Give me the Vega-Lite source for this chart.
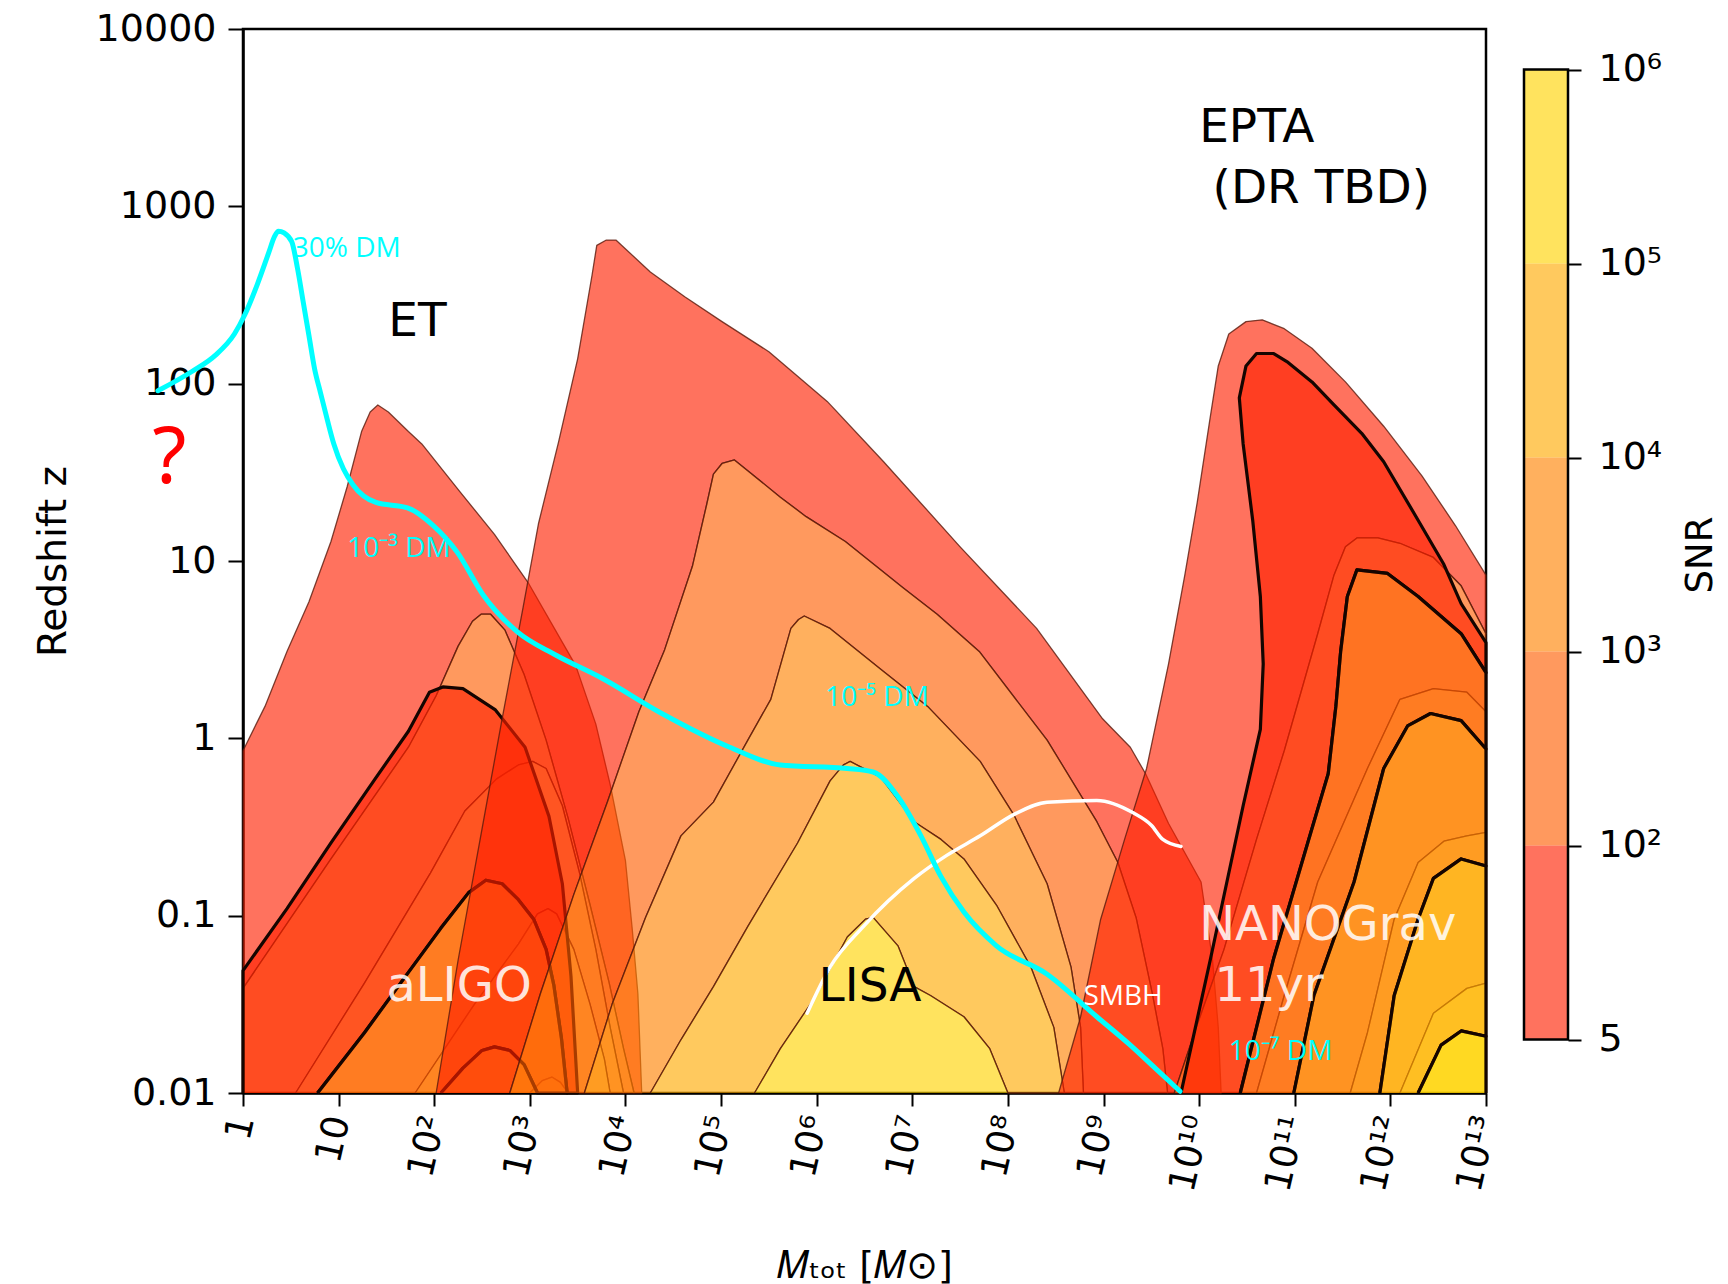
{
  "$schema": "https://vega.github.io/schema/vega-lite/v6.json",
  "background": "white",
  "padding": {"left": 32, "top": 8, "right": 5, "bottom": 5},
  "config": {
    "view": {"stroke": "black", "strokeWidth": 2.5},
    "axis": {"grid": false, "domainColor": "black", "tickColor": "black", "labelColor": "black", "titleColor": "black", "labelFont": "DejaVu Sans", "titleFont": "DejaVu Sans", "titleFontWeight": "normal"},
    "text": {"font": "DejaVu Sans"}
  },
  "datasets": {
    "contours": [
      {"det":"ET","band":1,"logM":0,"logz":-2},{"det":"ET","band":1,"logM":0,"logz":-0.07},{"det":"ET","band":1,"logM":0.23,"logz":0.18},{"det":"ET","band":1,"logM":0.46,"logz":0.49},{"det":"ET","band":1,"logM":0.69,"logz":0.77},{"det":"ET","band":1,"logM":0.92,"logz":1.11},{"det":"ET","band":1,"logM":1.09,"logz":1.42},{"det":"ET","band":1,"logM":1.24,"logz":1.73},{"det":"ET","band":1,"logM":1.33,"logz":1.84},{"det":"ET","band":1,"logM":1.41,"logz":1.88},{"det":"ET","band":1,"logM":1.52,"logz":1.84},{"det":"ET","band":1,"logM":1.73,"logz":1.73},{"det":"ET","band":1,"logM":1.87,"logz":1.66},{"det":"ET","band":1,"logM":2.27,"logz":1.39},{"det":"ET","band":1,"logM":2.63,"logz":1.15},{"det":"ET","band":1,"logM":2.98,"logz":0.88},{"det":"ET","band":1,"logM":3.48,"logz":0.41},{"det":"ET","band":1,"logM":3.69,"logz":0.08},{"det":"ET","band":1,"logM":3.84,"logz":-0.26},{"det":"ET","band":1,"logM":4.0,"logz":-0.69},{"det":"ET","band":1,"logM":4.07,"logz":-1.07},{"det":"ET","band":1,"logM":4.13,"logz":-1.44},{"det":"ET","band":1,"logM":4.17,"logz":-2},
      {"det":"ET","band":1,"logM":4.09,"logz":-2},{"det":"ET","band":1,"logM":3.98,"logz":-1.75},{"det":"ET","band":1,"logM":3.83,"logz":-1.38},{"det":"ET","band":1,"logM":3.63,"logz":-0.94},{"det":"ET","band":1,"logM":3.4,"logz":-0.45},{"det":"ET","band":1,"logM":3.17,"logz":-0.01},{"det":"ET","band":1,"logM":2.94,"logz":0.36},{"det":"ET","band":1,"logM":2.74,"logz":0.61},{"det":"ET","band":1,"logM":2.59,"logz":0.7},{"det":"ET","band":1,"logM":2.49,"logz":0.7},{"det":"ET","band":1,"logM":2.4,"logz":0.66},{"det":"ET","band":1,"logM":2.25,"logz":0.52},{"det":"ET","band":1,"logM":2.02,"logz":0.24},{"det":"ET","band":1,"logM":1.73,"logz":-0.05},{"det":"ET","band":1,"logM":0.92,"logz":-0.68},{"det":"ET","band":1,"logM":0,"logz":-1.41},{"det":"ET","band":1,"logM":0,"logz":-2},
      {"det":"ET","band":2,"logM":0,"logz":-2},{"det":"ET","band":2,"logM":0,"logz":-1.41},{"det":"ET","band":2,"logM":0.92,"logz":-0.68},{"det":"ET","band":2,"logM":1.73,"logz":-0.05},{"det":"ET","band":2,"logM":2.02,"logz":0.24},{"det":"ET","band":2,"logM":2.25,"logz":0.52},{"det":"ET","band":2,"logM":2.4,"logz":0.66},{"det":"ET","band":2,"logM":2.49,"logz":0.7},{"det":"ET","band":2,"logM":2.59,"logz":0.7},{"det":"ET","band":2,"logM":2.74,"logz":0.61},{"det":"ET","band":2,"logM":2.94,"logz":0.36},{"det":"ET","band":2,"logM":3.17,"logz":-0.01},{"det":"ET","band":2,"logM":3.4,"logz":-0.45},{"det":"ET","band":2,"logM":3.63,"logz":-0.94},{"det":"ET","band":2,"logM":3.83,"logz":-1.38},{"det":"ET","band":2,"logM":3.98,"logz":-1.75},{"det":"ET","band":2,"logM":4.09,"logz":-2},
      {"det":"ET","band":2,"logM":3.98,"logz":-2},{"det":"ET","band":2,"logM":3.84,"logz":-1.63},{"det":"ET","band":2,"logM":3.69,"logz":-1.19},{"det":"ET","band":2,"logM":3.52,"logz":-0.76},{"det":"ET","band":2,"logM":3.34,"logz":-0.38},{"det":"ET","band":2,"logM":3.17,"logz":-0.17},{"det":"ET","band":2,"logM":3.03,"logz":-0.13},{"det":"ET","band":2,"logM":2.88,"logz":-0.15},{"det":"ET","band":2,"logM":2.65,"logz":-0.23},{"det":"ET","band":2,"logM":2.32,"logz":-0.41},{"det":"ET","band":2,"logM":1.96,"logz":-0.76},{"det":"ET","band":2,"logM":1.27,"logz":-1.38},{"det":"ET","band":2,"logM":0.55,"logz":-2},
      {"det":"ET","band":3,"logM":0.55,"logz":-2},{"det":"ET","band":3,"logM":1.27,"logz":-1.38},{"det":"ET","band":3,"logM":1.96,"logz":-0.76},{"det":"ET","band":3,"logM":2.32,"logz":-0.41},{"det":"ET","band":3,"logM":2.65,"logz":-0.23},{"det":"ET","band":3,"logM":2.88,"logz":-0.15},{"det":"ET","band":3,"logM":3.03,"logz":-0.13},{"det":"ET","band":3,"logM":3.17,"logz":-0.17},{"det":"ET","band":3,"logM":3.34,"logz":-0.38},{"det":"ET","band":3,"logM":3.52,"logz":-0.76},{"det":"ET","band":3,"logM":3.69,"logz":-1.19},{"det":"ET","band":3,"logM":3.84,"logz":-1.63},{"det":"ET","band":3,"logM":3.98,"logz":-2},
      {"det":"ET","band":3,"logM":3.84,"logz":-2},{"det":"ET","band":3,"logM":3.78,"logz":-1.81},{"det":"ET","band":3,"logM":3.63,"logz":-1.5},{"det":"ET","band":3,"logM":3.46,"logz":-1.19},{"det":"ET","band":3,"logM":3.28,"logz":-0.99},{"det":"ET","band":3,"logM":3.19,"logz":-0.96},{"det":"ET","band":3,"logM":3.08,"logz":-0.99},{"det":"ET","band":3,"logM":2.88,"logz":-1.16},{"det":"ET","band":3,"logM":2.42,"logz":-1.5},{"det":"ET","band":3,"logM":1.8,"logz":-2},
      {"det":"ET","band":4,"logM":1.8,"logz":-2},{"det":"ET","band":4,"logM":2.42,"logz":-1.5},{"det":"ET","band":4,"logM":2.88,"logz":-1.16},{"det":"ET","band":4,"logM":3.08,"logz":-0.99},{"det":"ET","band":4,"logM":3.19,"logz":-0.96},{"det":"ET","band":4,"logM":3.28,"logz":-0.99},{"det":"ET","band":4,"logM":3.46,"logz":-1.19},{"det":"ET","band":4,"logM":3.63,"logz":-1.5},{"det":"ET","band":4,"logM":3.78,"logz":-1.81},{"det":"ET","band":4,"logM":3.84,"logz":-2},
      {"det":"ET","band":4,"logM":3.4,"logz":-2},{"det":"ET","band":4,"logM":3.32,"logz":-1.94},{"det":"ET","band":4,"logM":3.23,"logz":-1.91},{"det":"ET","band":4,"logM":3.13,"logz":-1.93},{"det":"ET","band":4,"logM":3.0,"logz":-2},
      {"det":"ET","band":5,"logM":3.0,"logz":-2},{"det":"ET","band":5,"logM":3.13,"logz":-1.93},{"det":"ET","band":5,"logM":3.23,"logz":-1.91},{"det":"ET","band":5,"logM":3.32,"logz":-1.94},{"det":"ET","band":5,"logM":3.4,"logz":-2},

      {"det":"aLIGO","band":1,"logM":0,"logz":-2},{"det":"aLIGO","band":1,"logM":0,"logz":-1.31},{"det":"aLIGO","band":1,"logM":0.46,"logz":-0.96},{"det":"aLIGO","band":1,"logM":0.92,"logz":-0.59},{"det":"aLIGO","band":1,"logM":1.38,"logz":-0.23},{"det":"aLIGO","band":1,"logM":1.73,"logz":0.04},{"det":"aLIGO","band":1,"logM":1.95,"logz":0.26},{"det":"aLIGO","band":1,"logM":2.09,"logz":0.29},{"det":"aLIGO","band":1,"logM":2.3,"logz":0.28},{"det":"aLIGO","band":1,"logM":2.64,"logz":0.16},{"det":"aLIGO","band":1,"logM":2.95,"logz":-0.05},{"det":"aLIGO","band":1,"logM":3.2,"logz":-0.44},{"det":"aLIGO","band":1,"logM":3.34,"logz":-0.82},{"det":"aLIGO","band":1,"logM":3.43,"logz":-1.34},{"det":"aLIGO","band":1,"logM":3.5,"logz":-2},
      {"det":"aLIGO","band":1,"logM":3.39,"logz":-2},{"det":"aLIGO","band":1,"logM":3.33,"logz":-1.69},{"det":"aLIGO","band":1,"logM":3.25,"logz":-1.39},{"det":"aLIGO","band":1,"logM":3.17,"logz":-1.19},{"det":"aLIGO","band":1,"logM":3.04,"logz":-1.02},{"det":"aLIGO","band":1,"logM":2.88,"logz":-0.91},{"det":"aLIGO","band":1,"logM":2.71,"logz":-0.82},{"det":"aLIGO","band":1,"logM":2.54,"logz":-0.8},{"det":"aLIGO","band":1,"logM":2.36,"logz":-0.87},{"det":"aLIGO","band":1,"logM":2.07,"logz":-1.07},{"det":"aLIGO","band":1,"logM":1.73,"logz":-1.32},{"det":"aLIGO","band":1,"logM":1.27,"logz":-1.66},{"det":"aLIGO","band":1,"logM":0.78,"logz":-2},
      {"det":"aLIGO","band":2,"logM":0.78,"logz":-2},{"det":"aLIGO","band":2,"logM":1.27,"logz":-1.66},{"det":"aLIGO","band":2,"logM":1.73,"logz":-1.32},{"det":"aLIGO","band":2,"logM":2.07,"logz":-1.07},{"det":"aLIGO","band":2,"logM":2.36,"logz":-0.87},{"det":"aLIGO","band":2,"logM":2.54,"logz":-0.8},{"det":"aLIGO","band":2,"logM":2.71,"logz":-0.82},{"det":"aLIGO","band":2,"logM":2.88,"logz":-0.91},{"det":"aLIGO","band":2,"logM":3.04,"logz":-1.02},{"det":"aLIGO","band":2,"logM":3.17,"logz":-1.19},{"det":"aLIGO","band":2,"logM":3.25,"logz":-1.39},{"det":"aLIGO","band":2,"logM":3.33,"logz":-1.69},{"det":"aLIGO","band":2,"logM":3.39,"logz":-2},
      {"det":"aLIGO","band":2,"logM":3.08,"logz":-2},{"det":"aLIGO","band":2,"logM":2.94,"logz":-1.84},{"det":"aLIGO","band":2,"logM":2.79,"logz":-1.76},{"det":"aLIGO","band":2,"logM":2.63,"logz":-1.74},{"det":"aLIGO","band":2,"logM":2.5,"logz":-1.76},{"det":"aLIGO","band":2,"logM":2.3,"logz":-1.86},{"det":"aLIGO","band":2,"logM":2.07,"logz":-2},
      {"det":"aLIGO","band":3,"logM":2.07,"logz":-2},{"det":"aLIGO","band":3,"logM":2.3,"logz":-1.86},{"det":"aLIGO","band":3,"logM":2.5,"logz":-1.76},{"det":"aLIGO","band":3,"logM":2.63,"logz":-1.74},{"det":"aLIGO","band":3,"logM":2.79,"logz":-1.76},{"det":"aLIGO","band":3,"logM":2.94,"logz":-1.84},{"det":"aLIGO","band":3,"logM":3.08,"logz":-2},

      {"det":"LISA","band":1,"logM":2.02,"logz":-2},{"det":"LISA","band":1,"logM":2.25,"logz":-1.25},{"det":"LISA","band":1,"logM":2.48,"logz":-0.57},{"det":"LISA","band":1,"logM":2.71,"logz":0.11},{"det":"LISA","band":1,"logM":2.93,"logz":0.74},{"det":"LISA","band":1,"logM":3.09,"logz":1.21},{"det":"LISA","band":1,"logM":3.3,"logz":1.67},{"det":"LISA","band":1,"logM":3.5,"logz":2.14},{"det":"LISA","band":1,"logM":3.65,"logz":2.61},{"det":"LISA","band":1,"logM":3.7,"logz":2.78},{"det":"LISA","band":1,"logM":3.8,"logz":2.81},{"det":"LISA","band":1,"logM":3.9,"logz":2.81},{"det":"LISA","band":1,"logM":4.26,"logz":2.63},{"det":"LISA","band":1,"logM":4.62,"logz":2.49},{"det":"LISA","band":1,"logM":5.01,"logz":2.35},{"det":"LISA","band":1,"logM":5.5,"logz":2.18},{"det":"LISA","band":1,"logM":6.11,"logz":1.9},{"det":"LISA","band":1,"logM":6.7,"logz":1.56},{"det":"LISA","band":1,"logM":7.5,"logz":1.08},{"det":"LISA","band":1,"logM":8.3,"logz":0.62},{"det":"LISA","band":1,"logM":8.99,"logz":0.11},{"det":"LISA","band":1,"logM":9.28,"logz":-0.05},{"det":"LISA","band":1,"logM":9.44,"logz":-0.2},{"det":"LISA","band":1,"logM":9.68,"logz":-0.48},{"det":"LISA","band":1,"logM":10.02,"logz":-0.81},{"det":"LISA","band":1,"logM":10.14,"logz":-1.25},{"det":"LISA","band":1,"logM":10.2,"logz":-1.63},{"det":"LISA","band":1,"logM":10.23,"logz":-2},
      {"det":"LISA","band":1,"logM":9.67,"logz":-2},{"det":"LISA","band":1,"logM":9.62,"logz":-1.75},{"det":"LISA","band":1,"logM":9.51,"logz":-1.44},{"det":"LISA","band":1,"logM":9.34,"logz":-1.01},{"det":"LISA","band":1,"logM":9.15,"logz":-0.7},{"det":"LISA","band":1,"logM":8.93,"logz":-0.47},{"det":"LISA","band":1,"logM":8.41,"logz":-0.01},{"det":"LISA","band":1,"logM":7.7,"logz":0.49},{"det":"LISA","band":1,"logM":7.26,"logz":0.7},{"det":"LISA","band":1,"logM":6.9,"logz":0.85},{"det":"LISA","band":1,"logM":6.3,"logz":1.11},{"det":"LISA","band":1,"logM":5.89,"logz":1.25},{"det":"LISA","band":1,"logM":5.62,"logz":1.36},{"det":"LISA","band":1,"logM":5.14,"logz":1.57},{"det":"LISA","band":1,"logM":5.01,"logz":1.55},{"det":"LISA","band":1,"logM":4.92,"logz":1.49},{"det":"LISA","band":1,"logM":4.85,"logz":1.32},{"det":"LISA","band":1,"logM":4.7,"logz":0.97},{"det":"LISA","band":1,"logM":4.41,"logz":0.5},{"det":"LISA","band":1,"logM":4.14,"logz":0.15},{"det":"LISA","band":1,"logM":3.81,"logz":-0.36},{"det":"LISA","band":1,"logM":3.46,"logz":-0.88},{"det":"LISA","band":1,"logM":3.11,"logz":-1.44},{"det":"LISA","band":1,"logM":2.79,"logz":-2},
      {"det":"LISA","band":2,"logM":2.79,"logz":-2},{"det":"LISA","band":2,"logM":3.11,"logz":-1.44},{"det":"LISA","band":2,"logM":3.46,"logz":-0.88},{"det":"LISA","band":2,"logM":3.81,"logz":-0.36},{"det":"LISA","band":2,"logM":4.14,"logz":0.15},{"det":"LISA","band":2,"logM":4.41,"logz":0.5},{"det":"LISA","band":2,"logM":4.7,"logz":0.97},{"det":"LISA","band":2,"logM":4.85,"logz":1.32},{"det":"LISA","band":2,"logM":4.92,"logz":1.49},{"det":"LISA","band":2,"logM":5.01,"logz":1.55},{"det":"LISA","band":2,"logM":5.14,"logz":1.57},{"det":"LISA","band":2,"logM":5.62,"logz":1.36},{"det":"LISA","band":2,"logM":5.89,"logz":1.25},{"det":"LISA","band":2,"logM":6.3,"logz":1.11},{"det":"LISA","band":2,"logM":6.9,"logz":0.85},{"det":"LISA","band":2,"logM":7.26,"logz":0.7},{"det":"LISA","band":2,"logM":7.7,"logz":0.49},{"det":"LISA","band":2,"logM":8.41,"logz":-0.01},{"det":"LISA","band":2,"logM":8.93,"logz":-0.47},{"det":"LISA","band":2,"logM":9.15,"logz":-0.7},{"det":"LISA","band":2,"logM":9.34,"logz":-1.01},{"det":"LISA","band":2,"logM":9.51,"logz":-1.44},{"det":"LISA","band":2,"logM":9.62,"logz":-1.75},{"det":"LISA","band":2,"logM":9.67,"logz":-2},
      {"det":"LISA","band":2,"logM":8.79,"logz":-2},{"det":"LISA","band":2,"logM":8.76,"logz":-1.63},{"det":"LISA","band":2,"logM":8.66,"logz":-1.29},{"det":"LISA","band":2,"logM":8.41,"logz":-0.82},{"det":"LISA","band":2,"logM":8.06,"logz":-0.43},{"det":"LISA","band":2,"logM":7.71,"logz":-0.13},{"det":"LISA","band":2,"logM":7.16,"logz":0.18},{"det":"LISA","band":2,"logM":6.67,"logz":0.39},{"det":"LISA","band":2,"logM":6.14,"logz":0.62},{"det":"LISA","band":2,"logM":5.87,"logz":0.69},{"det":"LISA","band":2,"logM":5.81,"logz":0.67},{"det":"LISA","band":2,"logM":5.73,"logz":0.62},{"det":"LISA","band":2,"logM":5.52,"logz":0.22},{"det":"LISA","band":2,"logM":5.28,"logz":-0.01},{"det":"LISA","band":2,"logM":4.92,"logz":-0.36},{"det":"LISA","band":2,"logM":4.58,"logz":-0.55},{"det":"LISA","band":2,"logM":4.21,"logz":-1.01},{"det":"LISA","band":2,"logM":3.86,"logz":-1.5},{"det":"LISA","band":2,"logM":3.57,"logz":-2},
      {"det":"LISA","band":3,"logM":3.57,"logz":-2},{"det":"LISA","band":3,"logM":3.86,"logz":-1.5},{"det":"LISA","band":3,"logM":4.21,"logz":-1.01},{"det":"LISA","band":3,"logM":4.58,"logz":-0.55},{"det":"LISA","band":3,"logM":4.92,"logz":-0.36},{"det":"LISA","band":3,"logM":5.28,"logz":-0.01},{"det":"LISA","band":3,"logM":5.52,"logz":0.22},{"det":"LISA","band":3,"logM":5.73,"logz":0.62},{"det":"LISA","band":3,"logM":5.81,"logz":0.67},{"det":"LISA","band":3,"logM":5.87,"logz":0.69},{"det":"LISA","band":3,"logM":6.14,"logz":0.62},{"det":"LISA","band":3,"logM":6.67,"logz":0.39},{"det":"LISA","band":3,"logM":7.16,"logz":0.18},{"det":"LISA","band":3,"logM":7.71,"logz":-0.13},{"det":"LISA","band":3,"logM":8.06,"logz":-0.43},{"det":"LISA","band":3,"logM":8.41,"logz":-0.82},{"det":"LISA","band":3,"logM":8.66,"logz":-1.29},{"det":"LISA","band":3,"logM":8.76,"logz":-1.63},{"det":"LISA","band":3,"logM":8.79,"logz":-2},
      {"det":"LISA","band":3,"logM":8.59,"logz":-2},{"det":"LISA","band":3,"logM":8.48,"logz":-1.63},{"det":"LISA","band":3,"logM":8.24,"logz":-1.29},{"det":"LISA","band":3,"logM":7.88,"logz":-0.94},{"det":"LISA","band":3,"logM":7.54,"logz":-0.68},{"det":"LISA","band":3,"logM":7.3,"logz":-0.57},{"det":"LISA","band":3,"logM":7.02,"logz":-0.47},{"det":"LISA","band":3,"logM":6.67,"logz":-0.22},{"det":"LISA","band":3,"logM":6.35,"logz":-0.13},{"det":"LISA","band":3,"logM":6.28,"logz":-0.15},{"det":"LISA","band":3,"logM":6.14,"logz":-0.24},{"det":"LISA","band":3,"logM":5.8,"logz":-0.59},{"det":"LISA","band":3,"logM":5.28,"logz":-1.06},{"det":"LISA","band":3,"logM":4.92,"logz":-1.4},{"det":"LISA","band":3,"logM":4.58,"logz":-1.7},{"det":"LISA","band":3,"logM":4.26,"logz":-2},
      {"det":"LISA","band":4,"logM":4.26,"logz":-2},{"det":"LISA","band":4,"logM":4.58,"logz":-1.7},{"det":"LISA","band":4,"logM":4.92,"logz":-1.4},{"det":"LISA","band":4,"logM":5.28,"logz":-1.06},{"det":"LISA","band":4,"logM":5.8,"logz":-0.59},{"det":"LISA","band":4,"logM":6.14,"logz":-0.24},{"det":"LISA","band":4,"logM":6.28,"logz":-0.15},{"det":"LISA","band":4,"logM":6.35,"logz":-0.13},{"det":"LISA","band":4,"logM":6.67,"logz":-0.22},{"det":"LISA","band":4,"logM":7.02,"logz":-0.47},{"det":"LISA","band":4,"logM":7.3,"logz":-0.57},{"det":"LISA","band":4,"logM":7.54,"logz":-0.68},{"det":"LISA","band":4,"logM":7.88,"logz":-0.94},{"det":"LISA","band":4,"logM":8.24,"logz":-1.29},{"det":"LISA","band":4,"logM":8.48,"logz":-1.63},{"det":"LISA","band":4,"logM":8.59,"logz":-2},
      {"det":"LISA","band":4,"logM":8.0,"logz":-2},{"det":"LISA","band":4,"logM":7.81,"logz":-1.75},{"det":"LISA","band":4,"logM":7.54,"logz":-1.57},{"det":"LISA","band":4,"logM":7.19,"logz":-1.45},{"det":"LISA","band":4,"logM":7.02,"logz":-1.4},{"det":"LISA","band":4,"logM":6.85,"logz":-1.17},{"det":"LISA","band":4,"logM":6.59,"logz":-1.01},{"det":"LISA","band":4,"logM":6.51,"logz":-1.02},{"det":"LISA","band":4,"logM":6.32,"logz":-1.12},{"det":"LISA","band":4,"logM":5.97,"logz":-1.47},{"det":"LISA","band":4,"logM":5.62,"logz":-1.75},{"det":"LISA","band":4,"logM":5.35,"logz":-2},
      {"det":"LISA","band":5,"logM":5.35,"logz":-2},{"det":"LISA","band":5,"logM":5.62,"logz":-1.75},{"det":"LISA","band":5,"logM":5.97,"logz":-1.47},{"det":"LISA","band":5,"logM":6.32,"logz":-1.12},{"det":"LISA","band":5,"logM":6.51,"logz":-1.02},{"det":"LISA","band":5,"logM":6.59,"logz":-1.01},{"det":"LISA","band":5,"logM":6.85,"logz":-1.17},{"det":"LISA","band":5,"logM":7.02,"logz":-1.4},{"det":"LISA","band":5,"logM":7.19,"logz":-1.45},{"det":"LISA","band":5,"logM":7.54,"logz":-1.57},{"det":"LISA","band":5,"logM":7.81,"logz":-1.75},{"det":"LISA","band":5,"logM":8.0,"logz":-2},

      {"det":"EPTA","band":1,"logM":8.53,"logz":-2},{"det":"EPTA","band":1,"logM":8.76,"logz":-1.57},{"det":"EPTA","band":1,"logM":8.97,"logz":-1.02},{"det":"EPTA","band":1,"logM":9.22,"logz":-0.57},{"det":"EPTA","band":1,"logM":9.45,"logz":-0.17},{"det":"EPTA","band":1,"logM":9.68,"logz":0.42},{"det":"EPTA","band":1,"logM":9.85,"logz":0.92},{"det":"EPTA","band":1,"logM":9.98,"logz":1.33},{"det":"EPTA","band":1,"logM":10.11,"logz":1.79},{"det":"EPTA","band":1,"logM":10.2,"logz":2.1},{"det":"EPTA","band":1,"logM":10.31,"logz":2.28},{"det":"EPTA","band":1,"logM":10.49,"logz":2.35},{"det":"EPTA","band":1,"logM":10.66,"logz":2.36},{"det":"EPTA","band":1,"logM":10.89,"logz":2.31},{"det":"EPTA","band":1,"logM":11.18,"logz":2.2},{"det":"EPTA","band":1,"logM":11.53,"logz":2.01},{"det":"EPTA","band":1,"logM":11.93,"logz":1.76},{"det":"EPTA","band":1,"logM":12.33,"logz":1.48},{"det":"EPTA","band":1,"logM":12.68,"logz":1.2},{"det":"EPTA","band":1,"logM":13,"logz":0.92},
      {"det":"EPTA","band":1,"logM":13,"logz":0.59},{"det":"EPTA","band":1,"logM":12.74,"logz":0.86},{"det":"EPTA","band":1,"logM":12.45,"logz":1.02},{"det":"EPTA","band":1,"logM":12.1,"logz":1.1},{"det":"EPTA","band":1,"logM":11.87,"logz":1.13},{"det":"EPTA","band":1,"logM":11.65,"logz":1.13},{"det":"EPTA","band":1,"logM":11.53,"logz":1.08},{"det":"EPTA","band":1,"logM":11.41,"logz":0.92},{"det":"EPTA","band":1,"logM":11.24,"logz":0.59},{"det":"EPTA","band":1,"logM":10.89,"logz":-0.07},{"det":"EPTA","band":1,"logM":10.6,"logz":-0.57},{"det":"EPTA","band":1,"logM":10.26,"logz":-1.19},{"det":"EPTA","band":1,"logM":9.97,"logz":-1.63},{"det":"EPTA","band":1,"logM":9.74,"logz":-2},
      {"det":"EPTA","band":2,"logM":9.74,"logz":-2},{"det":"EPTA","band":2,"logM":9.97,"logz":-1.63},{"det":"EPTA","band":2,"logM":10.26,"logz":-1.19},{"det":"EPTA","band":2,"logM":10.6,"logz":-0.57},{"det":"EPTA","band":2,"logM":10.89,"logz":-0.07},{"det":"EPTA","band":2,"logM":11.24,"logz":0.59},{"det":"EPTA","band":2,"logM":11.41,"logz":0.92},{"det":"EPTA","band":2,"logM":11.53,"logz":1.08},{"det":"EPTA","band":2,"logM":11.65,"logz":1.13},{"det":"EPTA","band":2,"logM":11.87,"logz":1.13},{"det":"EPTA","band":2,"logM":12.1,"logz":1.1},{"det":"EPTA","band":2,"logM":12.45,"logz":1.02},{"det":"EPTA","band":2,"logM":12.74,"logz":0.86},{"det":"EPTA","band":2,"logM":13,"logz":0.59},
      {"det":"EPTA","band":2,"logM":13,"logz":0.15},{"det":"EPTA","band":2,"logM":12.8,"logz":0.26},{"det":"EPTA","band":2,"logM":12.45,"logz":0.28},{"det":"EPTA","band":2,"logM":12.1,"logz":0.22},{"det":"EPTA","band":2,"logM":11.76,"logz":-0.17},{"det":"EPTA","band":2,"logM":11.24,"logz":-0.81},{"det":"EPTA","band":2,"logM":10.89,"logz":-1.45},{"det":"EPTA","band":2,"logM":10.6,"logz":-2},
      {"det":"EPTA","band":3,"logM":10.6,"logz":-2},{"det":"EPTA","band":3,"logM":10.89,"logz":-1.45},{"det":"EPTA","band":3,"logM":11.24,"logz":-0.81},{"det":"EPTA","band":3,"logM":11.76,"logz":-0.17},{"det":"EPTA","band":3,"logM":12.1,"logz":0.22},{"det":"EPTA","band":3,"logM":12.45,"logz":0.28},{"det":"EPTA","band":3,"logM":12.8,"logz":0.26},{"det":"EPTA","band":3,"logM":13,"logz":0.15},
      {"det":"EPTA","band":3,"logM":13,"logz":-0.53},{"det":"EPTA","band":3,"logM":12.8,"logz":-0.55},{"det":"EPTA","band":3,"logM":12.56,"logz":-0.58},{"det":"EPTA","band":3,"logM":12.29,"logz":-0.7},{"det":"EPTA","band":3,"logM":12.04,"logz":-1.02},{"det":"EPTA","band":3,"logM":11.76,"logz":-1.66},{"det":"EPTA","band":3,"logM":11.58,"logz":-2},
      {"det":"EPTA","band":4,"logM":11.58,"logz":-2},{"det":"EPTA","band":4,"logM":11.76,"logz":-1.66},{"det":"EPTA","band":4,"logM":12.04,"logz":-1.02},{"det":"EPTA","band":4,"logM":12.29,"logz":-0.7},{"det":"EPTA","band":4,"logM":12.56,"logz":-0.58},{"det":"EPTA","band":4,"logM":12.8,"logz":-0.55},{"det":"EPTA","band":4,"logM":13,"logz":-0.53},
      {"det":"EPTA","band":4,"logM":13,"logz":-1.38},{"det":"EPTA","band":4,"logM":12.8,"logz":-1.41},{"det":"EPTA","band":4,"logM":12.45,"logz":-1.55},{"det":"EPTA","band":4,"logM":12.1,"logz":-2},
      {"det":"EPTA","band":5,"logM":12.1,"logz":-2},{"det":"EPTA","band":5,"logM":12.45,"logz":-1.55},{"det":"EPTA","band":5,"logM":12.8,"logz":-1.41},{"det":"EPTA","band":5,"logM":13,"logz":-1.38},{"det":"EPTA","band":5,"logM":13,"logz":-2},

      {"det":"NANOGrav","band":1,"logM":9.81,"logz":-2},{"det":"NANOGrav","band":1,"logM":10.12,"logz":-1.24},{"det":"NANOGrav","band":1,"logM":10.46,"logz":-0.38},{"det":"NANOGrav","band":1,"logM":10.64,"logz":0.05},{"det":"NANOGrav","band":1,"logM":10.67,"logz":0.42},{"det":"NANOGrav","band":1,"logM":10.64,"logz":0.8},{"det":"NANOGrav","band":1,"logM":10.56,"logz":1.23},{"det":"NANOGrav","band":1,"logM":10.46,"logz":1.66},{"det":"NANOGrav","band":1,"logM":10.42,"logz":1.92},{"det":"NANOGrav","band":1,"logM":10.49,"logz":2.1},{"det":"NANOGrav","band":1,"logM":10.6,"logz":2.17},{"det":"NANOGrav","band":1,"logM":10.78,"logz":2.17},{"det":"NANOGrav","band":1,"logM":10.93,"logz":2.12},{"det":"NANOGrav","band":1,"logM":11.18,"logz":2.01},{"det":"NANOGrav","band":1,"logM":11.41,"logz":1.88},{"det":"NANOGrav","band":1,"logM":11.7,"logz":1.72},{"det":"NANOGrav","band":1,"logM":11.93,"logz":1.56},{"det":"NANOGrav","band":1,"logM":12.29,"logz":1.23},{"det":"NANOGrav","band":1,"logM":12.56,"logz":0.98},{"det":"NANOGrav","band":1,"logM":12.74,"logz":0.76},{"det":"NANOGrav","band":1,"logM":13,"logz":0.54},
      {"det":"NANOGrav","band":1,"logM":13,"logz":0.37},{"det":"NANOGrav","band":1,"logM":12.74,"logz":0.59},{"det":"NANOGrav","band":1,"logM":12.29,"logz":0.8},{"det":"NANOGrav","band":1,"logM":11.97,"logz":0.93},{"det":"NANOGrav","band":1,"logM":11.65,"logz":0.95},{"det":"NANOGrav","band":1,"logM":11.55,"logz":0.8},{"det":"NANOGrav","band":1,"logM":11.48,"logz":0.49},{"det":"NANOGrav","band":1,"logM":11.43,"logz":0.18},{"det":"NANOGrav","band":1,"logM":11.35,"logz":-0.2},{"det":"NANOGrav","band":1,"logM":11.13,"logz":-0.6},{"det":"NANOGrav","band":1,"logM":10.78,"logz":-1.24},{"det":"NANOGrav","band":1,"logM":10.43,"logz":-2},
      {"det":"NANOGrav","band":2,"logM":10.43,"logz":-2},{"det":"NANOGrav","band":2,"logM":10.78,"logz":-1.24},{"det":"NANOGrav","band":2,"logM":11.13,"logz":-0.6},{"det":"NANOGrav","band":2,"logM":11.35,"logz":-0.2},{"det":"NANOGrav","band":2,"logM":11.43,"logz":0.18},{"det":"NANOGrav","band":2,"logM":11.48,"logz":0.49},{"det":"NANOGrav","band":2,"logM":11.55,"logz":0.8},{"det":"NANOGrav","band":2,"logM":11.65,"logz":0.95},{"det":"NANOGrav","band":2,"logM":11.97,"logz":0.93},{"det":"NANOGrav","band":2,"logM":12.29,"logz":0.8},{"det":"NANOGrav","band":2,"logM":12.74,"logz":0.59},{"det":"NANOGrav","band":2,"logM":13,"logz":0.37},
      {"det":"NANOGrav","band":2,"logM":13,"logz":-0.06},{"det":"NANOGrav","band":2,"logM":12.74,"logz":0.1},{"det":"NANOGrav","band":2,"logM":12.42,"logz":0.14},{"det":"NANOGrav","band":2,"logM":12.18,"logz":0.07},{"det":"NANOGrav","band":2,"logM":11.93,"logz":-0.17},{"det":"NANOGrav","band":2,"logM":11.62,"logz":-0.81},{"det":"NANOGrav","band":2,"logM":11.2,"logz":-1.45},{"det":"NANOGrav","band":2,"logM":10.99,"logz":-2},
      {"det":"NANOGrav","band":3,"logM":10.99,"logz":-2},{"det":"NANOGrav","band":3,"logM":11.2,"logz":-1.45},{"det":"NANOGrav","band":3,"logM":11.62,"logz":-0.81},{"det":"NANOGrav","band":3,"logM":11.93,"logz":-0.17},{"det":"NANOGrav","band":3,"logM":12.18,"logz":0.07},{"det":"NANOGrav","band":3,"logM":12.42,"logz":0.14},{"det":"NANOGrav","band":3,"logM":12.74,"logz":0.1},{"det":"NANOGrav","band":3,"logM":13,"logz":-0.06},
      {"det":"NANOGrav","band":3,"logM":13,"logz":-0.72},{"det":"NANOGrav","band":3,"logM":12.74,"logz":-0.68},{"det":"NANOGrav","band":3,"logM":12.45,"logz":-0.79},{"det":"NANOGrav","band":3,"logM":12.29,"logz":-1.02},{"det":"NANOGrav","band":3,"logM":12.04,"logz":-1.45},{"det":"NANOGrav","band":3,"logM":11.89,"logz":-2},
      {"det":"NANOGrav","band":4,"logM":11.89,"logz":-2},{"det":"NANOGrav","band":4,"logM":12.04,"logz":-1.45},{"det":"NANOGrav","band":4,"logM":12.29,"logz":-1.02},{"det":"NANOGrav","band":4,"logM":12.45,"logz":-0.79},{"det":"NANOGrav","band":4,"logM":12.74,"logz":-0.68},{"det":"NANOGrav","band":4,"logM":13,"logz":-0.72},
      {"det":"NANOGrav","band":4,"logM":13,"logz":-1.68},{"det":"NANOGrav","band":4,"logM":12.74,"logz":-1.65},{"det":"NANOGrav","band":4,"logM":12.53,"logz":-1.73},{"det":"NANOGrav","band":4,"logM":12.29,"logz":-2},
      {"det":"NANOGrav","band":5,"logM":12.29,"logz":-2},{"det":"NANOGrav","band":5,"logM":12.53,"logz":-1.73},{"det":"NANOGrav","band":5,"logM":12.74,"logz":-1.65},{"det":"NANOGrav","band":5,"logM":13,"logz":-1.68},{"det":"NANOGrav","band":5,"logM":13,"logz":-2}
    ],
    "curves": [
      {"curve":"dark matter","logM":-0.89,"logz":1.96},{"curve":"dark matter","logM":-0.53,"logz":2.07},{"curve":"dark matter","logM":-0.29,"logz":2.16},{"curve":"dark matter","logM":-0.09,"logz":2.28},{"curve":"dark matter","logM":0.02,"logz":2.39},{"curve":"dark matter","logM":0.15,"logz":2.56},{"curve":"dark matter","logM":0.27,"logz":2.74},{"curve":"dark matter","logM":0.33,"logz":2.83},{"curve":"dark matter","logM":0.37,"logz":2.86},{"curve":"dark matter","logM":0.43,"logz":2.85},{"curve":"dark matter","logM":0.51,"logz":2.8},{"curve":"dark matter","logM":0.57,"logz":2.65},{"curve":"dark matter","logM":0.63,"logz":2.46},{"curve":"dark matter","logM":0.69,"logz":2.27},{"curve":"dark matter","logM":0.75,"logz":2.08},{"curve":"dark matter","logM":0.81,"logz":1.95},{"curve":"dark matter","logM":0.88,"logz":1.8},{"curve":"dark matter","logM":0.95,"logz":1.66},{"curve":"dark matter","logM":1.05,"logz":1.52},{"curve":"dark matter","logM":1.15,"logz":1.43},{"curve":"dark matter","logM":1.39,"logz":1.33},{"curve":"dark matter","logM":1.72,"logz":1.3},{"curve":"dark matter","logM":1.99,"logz":1.2},{"curve":"dark matter","logM":2.24,"logz":1.05},{"curve":"dark matter","logM":2.51,"logz":0.81},{"curve":"dark matter","logM":2.87,"logz":0.6},{"curve":"dark matter","logM":3.27,"logz":0.47},{"curve":"dark matter","logM":3.75,"logz":0.34},{"curve":"dark matter","logM":4.38,"logz":0.14},{"curve":"dark matter","logM":5.09,"logz":-0.05},{"curve":"dark matter","logM":5.62,"logz":-0.15},{"curve":"dark matter","logM":6.32,"logz":-0.17},{"curve":"dark matter","logM":6.59,"logz":-0.19},{"curve":"dark matter","logM":6.85,"logz":-0.33},{"curve":"dark matter","logM":7.09,"logz":-0.55},{"curve":"dark matter","logM":7.3,"logz":-0.78},{"curve":"dark matter","logM":7.54,"logz":-0.98},{"curve":"dark matter","logM":7.88,"logz":-1.17},{"curve":"dark matter","logM":8.41,"logz":-1.33},{"curve":"dark matter","logM":8.93,"logz":-1.57},{"curve":"dark matter","logM":9.28,"logz":-1.73},{"curve":"dark matter","logM":9.54,"logz":-1.86},{"curve":"dark matter","logM":9.8,"logz":-1.99},
      {"curve":"SMBH","logM":5.9,"logz":-1.55},{"curve":"SMBH","logM":6.14,"logz":-1.29},{"curve":"SMBH","logM":6.49,"logz":-1.06},{"curve":"SMBH","logM":7.02,"logz":-0.79},{"curve":"SMBH","logM":7.36,"logz":-0.66},{"curve":"SMBH","logM":7.71,"logz":-0.55},{"curve":"SMBH","logM":8.06,"logz":-0.43},{"curve":"SMBH","logM":8.41,"logz":-0.36},{"curve":"SMBH","logM":8.93,"logz":-0.35},{"curve":"SMBH","logM":9.31,"logz":-0.42},{"curve":"SMBH","logM":9.5,"logz":-0.49},{"curve":"SMBH","logM":9.62,"logz":-0.57},{"curve":"SMBH","logM":9.81,"logz":-0.61}
    ],
    "colorbar": [
      {"band":1,"SNR_low":5,"SNR_high":100},
      {"band":2,"SNR_low":100,"SNR_high":1000},
      {"band":3,"SNR_low":1000,"SNR_high":10000},
      {"band":4,"SNR_low":10000,"SNR_high":100000},
      {"band":5,"SNR_low":100000,"SNR_high":1000000}
    ]
  },
  "hconcat": [
    {
      "width": 1243,
      "height": 1064,
      "encoding": {
        "x": {"field": "logM", "type": "quantitative", "scale": {"domain": [0, 13], "nice": false, "zero": false},
          "axis": {"values": [0,1,2,3,4,5,6,7,8,9,10,11,12,13], "labelExpr": "datum.value == 0 ? '1' : datum.value == 1 ? '10' : '10' + (datum.value >= 10 ? '¹' + substring('⁰¹²³⁴⁵⁶⁷⁸⁹', datum.value - 10, datum.value - 9) : substring('⁰¹²³⁴⁵⁶⁷⁸⁹', datum.value, datum.value + 1))",
            "labelAngle": -77, "labelAlign": "right", "labelBaseline": "middle", "labelFontSize": 37, "labelPadding": 10, "labelFlush": false, "labelOverlap": false,
            "tickSize": 13, "tickWidth": 2, "domainWidth": 2.5, "title": "𝑀ₜₒₜ [𝑀⊙]", "titleFontSize": 38, "titlePadding": 53}},
        "y": {"field": "logz", "type": "quantitative", "scale": {"domain": [-2, 4], "nice": false, "zero": false},
          "axis": {"values": [-2,-1,0,1,2,3,4], "labelExpr": "datum.value == -2 ? '0.01' : datum.value == -1 ? '0.1' : format(pow(10, datum.value), 'd')",
            "labelFontSize": 38, "labelPadding": 12, "labelFlush": false, "labelOverlap": false, "tickSize": 15, "tickWidth": 2, "domainWidth": 2.5,
            "title": "Redshift z", "titleFontSize": 39, "titlePadding": 22}}
      },
      "layer": [
        {"data": {"name": "contours"}, "transform": [{"filter": {"field": "det", "equal": "ET"}}],
         "mark": {"type": "line", "fillOpacity": 0.63, "stroke": "#5a1a0c", "strokeWidth": 1.3, "strokeOpacity": 0.8, "strokeJoin": "round"},
         "encoding": {"fill": {"field": "band", "type": "ordinal", "scale": {"domain": [1,2,3,4,5], "range": ["#ff2000","#ff5d00","#ff8200","#ffaa00","#ffd200"]}, "legend": null}, "detail": {"field": "band"}, "order": {"value": null}}},
        {"data": {"name": "contours"}, "transform": [{"filter": {"field": "det", "equal": "aLIGO"}}],
         "mark": {"type": "line", "fillOpacity": 0.63, "stroke": "#150500", "strokeWidth": 3.2, "strokeJoin": "round"},
         "encoding": {"fill": {"field": "band", "type": "ordinal", "legend": null}, "detail": {"field": "band"}, "order": {"value": null}}},
        {"data": {"name": "contours"}, "transform": [{"filter": {"field": "det", "equal": "LISA"}}],
         "mark": {"type": "line", "fillOpacity": 0.63, "stroke": "#5a1a0c", "strokeWidth": 1.3, "strokeOpacity": 0.8, "strokeJoin": "round"},
         "encoding": {"fill": {"field": "band", "type": "ordinal", "legend": null}, "detail": {"field": "band"}, "order": {"value": null}}},
        {"data": {"name": "contours"}, "transform": [{"filter": {"field": "det", "equal": "EPTA"}}],
         "mark": {"type": "line", "fillOpacity": 0.63, "stroke": "#5a1a0c", "strokeWidth": 1.3, "strokeOpacity": 0.8, "strokeJoin": "round"},
         "encoding": {"fill": {"field": "band", "type": "ordinal", "legend": null}, "detail": {"field": "band"}, "order": {"value": null}}},
        {"data": {"name": "contours"}, "transform": [{"filter": {"field": "det", "equal": "NANOGrav"}}],
         "mark": {"type": "line", "fillOpacity": 0.63, "stroke": "#150500", "strokeWidth": 3.2, "strokeJoin": "round"},
         "encoding": {"fill": {"field": "band", "type": "ordinal", "legend": null}, "detail": {"field": "band"}, "order": {"value": null}}},
        {"data": {"name": "curves"}, "transform": [{"filter": {"field": "curve", "equal": "SMBH"}}],
         "mark": {"type": "line", "stroke": "white", "strokeWidth": 3.5, "interpolate": "monotone", "strokeCap": "round"},
         "encoding": {"order": {"value": null}}},
        {"data": {"name": "curves"}, "transform": [{"filter": {"field": "curve", "equal": "dark matter"}}],
         "mark": {"type": "line", "stroke": "#00ffff", "strokeWidth": 5, "interpolate": "monotone", "strokeCap": "round"},
         "encoding": {"order": {"value": null}}},
        {"data": {"values": [
            {"label": "ET", "logM": 1.52, "logz": 2.35},
            {"label": "LISA", "logM": 6.02, "logz": -1.4},
            {"label": "EPTA", "logM": 10.0, "logz": 3.44},
            {"label": "(DR TBD)", "logM": 10.14, "logz": 3.1}]},
         "mark": {"type": "text", "align": "left", "baseline": "middle", "fontSize": 47, "font": "DejaVu Sans", "color": "black"},
         "encoding": {"text": {"field": "label"}}},
        {"data": {"values": [
            {"label": "aLIGO", "logM": 1.5, "logz": -1.4},
            {"label": "NANOGrav", "logM": 10.0, "logz": -1.06},
            {"label": "11yr", "logM": 10.16, "logz": -1.4}]},
         "mark": {"type": "text", "align": "left", "baseline": "middle", "fontSize": 48, "font": "DejaVu Sans", "color": "#ffffff", "opacity": 0.85},
         "encoding": {"text": {"field": "label"}}},
        {"data": {"values": [
            {"label": "30% DM", "logM": 0.52, "logz": 2.76},
            {"label": "10⁻³ DM", "logM": 1.09, "logz": 1.07},
            {"label": "10⁻⁵ DM", "logM": 6.09, "logz": 0.23},
            {"label": "10⁻⁷ DM", "logM": 10.31, "logz": -1.77}]},
         "mark": {"type": "text", "align": "left", "baseline": "middle", "fontSize": 28, "font": "Open Sans", "color": "#00ffff"},
         "encoding": {"text": {"field": "label"}}},
        {"data": {"values": [{"label": "SMBH", "logM": 8.79, "logz": -1.46}]},
         "mark": {"type": "text", "align": "left", "baseline": "middle", "fontSize": 28, "font": "Open Sans", "color": "white"},
         "encoding": {"text": {"field": "label"}}},
        {"data": {"values": [{"label": "?", "logM": -0.77, "logz": 1.57}]},
         "mark": {"type": "text", "align": "center", "baseline": "middle", "fontSize": 78, "font": "Noto Sans", "color": "#ff0000"},
         "encoding": {"text": {"field": "label"}}}
      ]
    },
    {
      "width": 44,
      "height": 1064,
      "view": {"stroke": null},
      "layer": [
        {"data": {"name": "colorbar"},
         "mark": {"type": "rect", "fillOpacity": 0.63},
         "encoding": {
           "y": {"field": "SNR_low", "type": "quantitative",
             "scale": {"type": "linear", "domain": [5, 100, 1000, 10000, 100000, 1000000], "range": [1010.5, 816.5, 622.5, 428.5, 234.5, 40.5], "nice": false, "zero": false},
             "axis": {"orient": "right", "values": [5, 100, 1000, 10000, 100000, 1000000],
               "labelExpr": "datum.value == 5 ? '5' : '10' + substring('⁰¹²³⁴⁵⁶⁷⁸⁹', round(log(datum.value) / LN10), round(log(datum.value) / LN10) + 1)",
               "domain": false, "tickSize": 13, "tickWidth": 2, "labelFontSize": 38, "labelPadding": 17, "labelFlush": false, "labelOverlap": false,
               "title": "SNR", "titleFontSize": 37, "titleAngle": 270, "titlePadding": 58}},
           "y2": {"field": "SNR_high"},
           "fill": {"field": "band", "type": "ordinal", "scale": {"domain": [1,2,3,4,5], "range": ["#ff2000","#ff5d00","#ff8200","#ffaa00","#ffd200"]}, "legend": null}
         }},
        {"data": {"values": [{"SNR_low": 5, "SNR_high": 1000000}]},
         "mark": {"type": "rect", "filled": false, "stroke": "black", "strokeWidth": 2.5},
         "encoding": {"y": {"field": "SNR_low", "type": "quantitative"}, "y2": {"field": "SNR_high"}}}
      ]
    }
  ],
  "spacing": 38,
  "bounds": "flush"
}
